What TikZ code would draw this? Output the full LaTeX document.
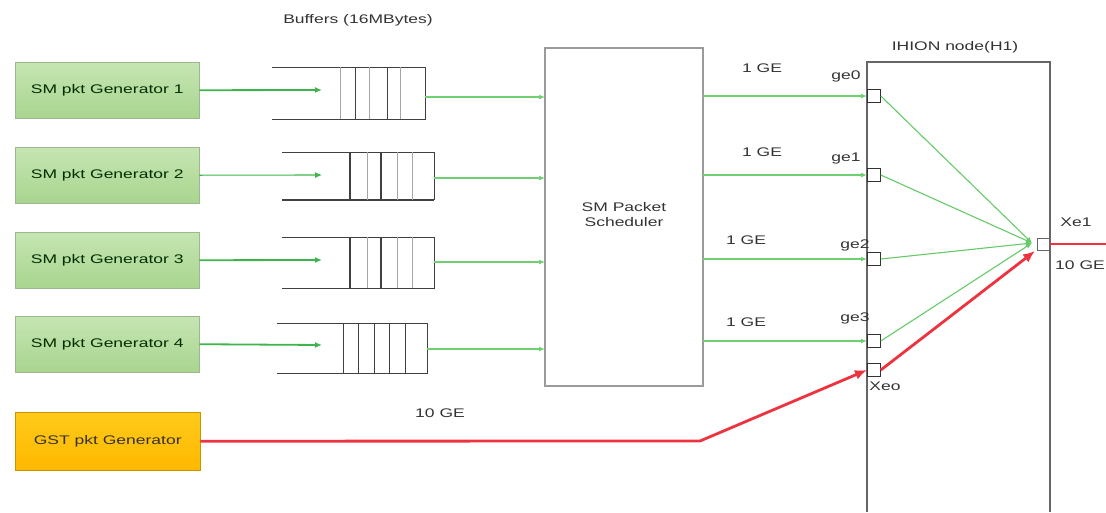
\documentclass[tikz,border=0pt]{standalone}
\usepackage{fontspec}
\setmainfont{Liberation Sans}[FakeStretch=1.4]
\usetikzlibrary{arrows.meta}
\definecolor{gfill}{HTML}{A8D58F}
\definecolor{gfilltop}{HTML}{C6E5B2}
\definecolor{gborder}{HTML}{9DB88F}
\definecolor{ofill}{HTML}{FFB800}
\definecolor{ofilltop}{HTML}{FFCA1A}
\definecolor{gline}{HTML}{3DB54A}
\definecolor{lgline}{HTML}{6FD070}
\definecolor{rline}{HTML}{EE3340}
\definecolor{txt}{HTML}{333333}
\definecolor{boxgrey}{HTML}{9A9A9A}
\begin{document}
\begin{tikzpicture}[x=1pt,y=-1pt,
  every node/.style={font=\fontsize{12.5}{15}\selectfont,text=txt,inner sep=0pt},
  gen/.style={draw=gborder,top color=gfilltop,bottom color=gfill,minimum width=184pt,minimum height=56pt,anchor=north west,text=black!70!green!60!black},
  gst/.style={draw=ofill!80!black,top color=ofilltop,bottom color=ofill,minimum width=185pt,minimum height=58pt,anchor=north west,text=black!80},
  genarrow/.style={draw=gline,line width=1.8pt,-{Latex[length=7pt,width=6pt]}},
  thinarrow/.style={draw=lgline,line width=1.3pt,-{Latex[length=6pt,width=5pt]}},
  fanarrow/.style={draw=lgline!80!gline,line width=1.1pt,-{Latex[length=6pt,width=5pt]}},
  redline/.style={draw=rline,line width=2.8pt},
  redarrow/.style={draw=rline,line width=2.8pt,-{Latex[length=12pt,width=10pt]}},
  bufline/.style={draw=black!75,line width=1pt},
  slotg/.style={draw=black!35,line width=1pt},
  port/.style={draw=black!80,fill=white,line width=0.8pt,minimum size=13pt},
  bigbox/.style={draw=boxgrey,line width=1.3pt}
]
\useasboundingbox (0,0) rectangle (1106,512);

% generators
\node[gen] (g1) at (15,62) {SM pkt Generator 1};
\node[gen] (g2) at (15,147) {SM pkt Generator 2};
\node[gen] (g3) at (15,232) {SM pkt Generator 3};
\node[gen] (g4) at (15,316) {SM pkt Generator 4};
\node[gst] (gst) at (15,412) {GST pkt Generator};

% buffers
\node at (358,20) (buflabel) {Buffers (16MBytes)};
% buffer 1
\draw[bufline] (272,67) -- (425,67) -- (425,119) -- (272,119);
\foreach \x in {355,387} \draw[bufline] (\x,67) -- (\x,119);
\foreach \x in {340,369,400} \draw[slotg] (\x,67) -- (\x,119);
% buffer 2
\draw[bufline] (282,152) -- (434,152) -- (434,200);
\draw[black!75,line width=2pt] (282,200) -- (434,200);
\foreach \x in {350,381} \draw[black!75,line width=1.6pt] (\x,152) -- (\x,200);
\foreach \x in {367,397,412} \draw[slotg] (\x,152) -- (\x,200);
% buffer 3
\draw[bufline] (282,237) -- (434,237) -- (434,288) -- (282,288);
\foreach \x in {350,381} \draw[black!75,line width=1.6pt] (\x,237) -- (\x,288);
\foreach \x in {367,397,412} \draw[slotg] (\x,237) -- (\x,288);
% buffer 4
\draw[bufline] (277,323) -- (427,323) -- (427,373) -- (277,373);
\foreach \x in {343,358,374,389,405} \draw[bufline] (\x,323) -- (\x,373);

\coordinate (b1in) at (322,90);
\coordinate (b2in) at (322,175);
\coordinate (b3in) at (322,260);
\coordinate (b4in) at (322,345);
\coordinate (b1out) at (425,97);
\coordinate (b2out) at (434,178);
\coordinate (b3out) at (434,262);
\coordinate (b4out) at (427,349);

\draw[genarrow] (g1.east) -- (b1in);
\draw[genarrow,line width=1.1pt] (g2.east) -- (b2in);
\draw[genarrow] (g3.east) -- (b3in);
\draw[genarrow] (g4.east) -- (b4in);

% scheduler
\draw[bigbox] (545,48) rectangle (703,386);
\node[align=center] (sched) at (624,215) {SM Packet\\Scheduler};
\coordinate (s1in) at (545,97);
\coordinate (s2in) at (545,178);
\coordinate (s3in) at (545,262);
\coordinate (s4in) at (545,349);
\draw[thinarrow] (b1out) -- (s1in);
\draw[thinarrow] (b2out) -- (s2in);
\draw[thinarrow] (b3out) -- (s3in);
\draw[thinarrow] (b4out) -- (s4in);

% HION node
\draw[bigbox,draw=black!60] (867,512) -- (867,62) -- (1050,62) -- (1050,512);
\node (hion) at (955,47) {IHION node(H1)};

\node[port,anchor=west] (ge0) at (867,96) {};
\node[port,anchor=west] (ge1) at (867,175) {};
\node[port,anchor=west] (ge2) at (867,259) {};
\node[port,anchor=west] (ge3) at (867,341) {};
\node[port,anchor=west] (xeo) at (867,370) {};
\node[port,anchor=east,minimum size=12pt,draw=black!60] (xe1) at (1050,244) {};
\coordinate (conv) at (1032,243);
\coordinate (convr) at (1035,251);

\coordinate (o1) at (703,96);
\coordinate (o2) at (703,175);
\coordinate (o3) at (703,259);
\coordinate (o4) at (703,341);
\draw[thinarrow] (o1) -- (ge0.west);
\draw[thinarrow] (o2) -- (ge1.west);
\draw[thinarrow] (o3) -- (ge2.west);
\draw[thinarrow] (o4) -- (ge3.west);

\node (l1) at (762,68) {1 GE};
\node (l2) at (762,152) {1 GE};
\node (l3) at (746,240) {1 GE};
\node (l4) at (746,322) {1 GE};
\node (n0) at (846,76) {ge0};
\node (n1) at (846,158) {ge1};
\node (n2) at (855,245) {ge2};
\node (n3) at (855,318) {ge3};
\node (nxeo) at (885,386) {Xeo};
\node (nxe1) at (1076,222) {Xe1};
\node (n10) at (1080,265) {10 GE};
\node (n10b) at (440,413) {10 GE};

\draw[fanarrow] (ge0.east) -- (conv);
\draw[fanarrow] (ge1.east) -- (conv);
\draw[fanarrow] (ge2.east) -- (conv);
\draw[fanarrow] (ge3.east) -- (conv);

% red links
\coordinate (bend) at (700,441);
\draw[redarrow] (gst.east) -- (bend) -- (xeo.west);
\draw[redarrow] (xeo.east) -- (convr);
\coordinate (outr) at (1106,244);
\draw[redline] (xe1.east) -- (outr);
\end{tikzpicture}
\end{document}
